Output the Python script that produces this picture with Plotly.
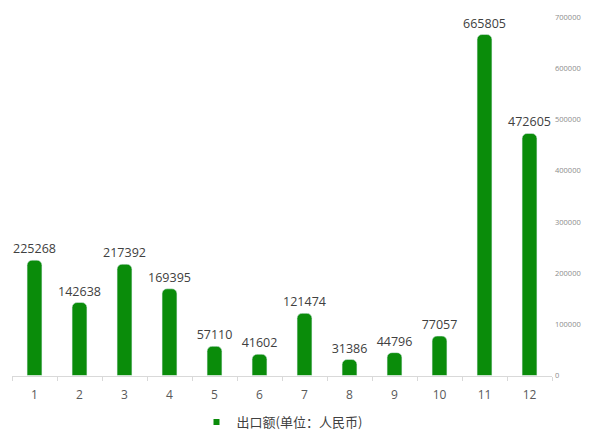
import plotly.graph_objects as go

months = ["1", "2", "3", "4", "5", "6", "7", "8", "9", "10", "11", "12"]
export_values = [225268, 142638, 217392, 169395, 57110, 41602, 121474, 31386, 44796, 77057, 665805, 472605]
series_name = "出口额(单位：人民币)"
y_ticks = [0, 100000, 200000, 300000, 400000, 500000, 600000, 700000]
bar_color = "#0a8c0a"

fig = go.Figure()
fig.add_trace(go.Bar(
    x=months,
    y=export_values,
    name=series_name,
    marker=dict(color=bar_color, cornerradius=5),
    width=0.33,
    text=[str(v) for v in export_values],
    textposition="outside",
    constraintext="none",
    textfont=dict(size=12.5, color="#404040", family="Open Sans"),
    cliponaxis=False,
    showlegend=False,
))
# legend entry (small square marker like the reference)
fig.add_trace(go.Scatter(
    x=[None], y=[None], mode="markers", name=series_name,
    marker=dict(symbol="square", size=6, color=bar_color),
    showlegend=True,
))

fig.update_layout(
    width=584, height=429,
    margin=dict(l=4, r=40, t=9, b=54),
    paper_bgcolor="white",
    plot_bgcolor="white",
    font=dict(family="Open Sans", color="#595959"),
    bargap=0.67,
    showlegend=True,
    legend=dict(orientation="h", x=0.50, xanchor="center",
                yref="container", y=0.0, yanchor="bottom",
                font=dict(size=13, color="#404040", family="Noto Sans CJK SC"),
                itemwidth=30, tracegroupgap=0, borderwidth=0),
    xaxis=dict(
        type="category",
        showline=True, linecolor="#d9d9d9", linewidth=1,
        ticks="outside", tickson="boundaries", ticklen=4, tickcolor="#d9d9d9",
        tickfont=dict(size=12, color="#595959"),
        ticklabelstandoff=8,
        showgrid=False,
    ),
    yaxis=dict(
        side="right",
        range=[0, 700000],
        tickvals=y_ticks,
        ticktext=[str(v) for v in y_ticks],
        tickfont=dict(size=7.5, color="#8c8c8c"),
        showgrid=False, zeroline=False, showline=False,
        ticks="", ticklabelstandoff=2,
    ),
)

fig.write_html("out.html")
